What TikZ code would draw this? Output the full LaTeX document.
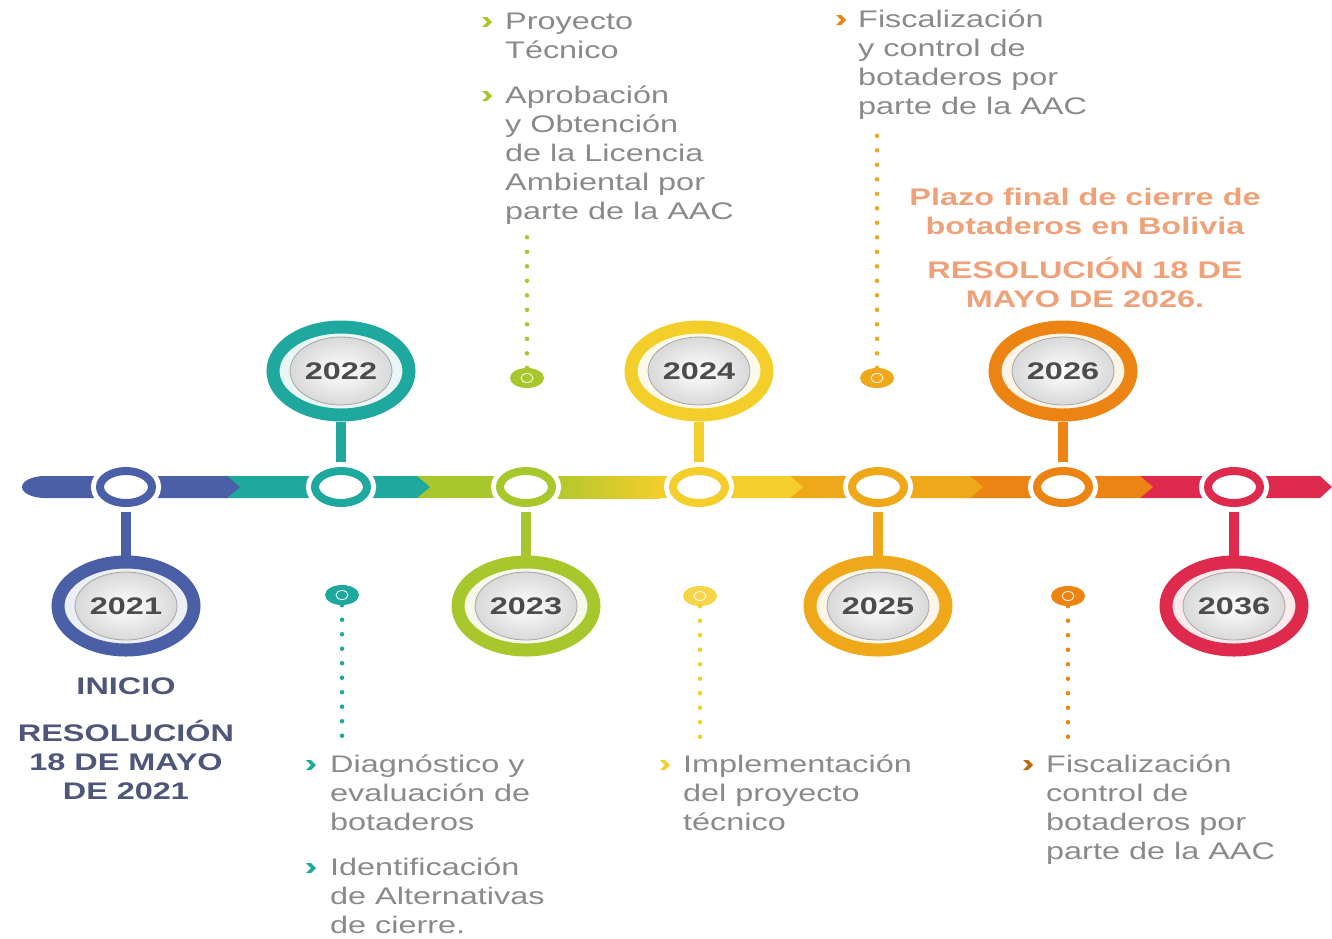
\documentclass[tikz,border=0pt]{standalone}
\usepackage{fontspec}
\setmainfont{Liberation Sans}[FakeStretch=1.35]
\usetikzlibrary{shapes.geometric, positioning, calc, backgrounds}

\definecolor{cblue}{HTML}{4B5FA6}
\definecolor{cteal}{HTML}{1FA89E}
\definecolor{cgreen}{HTML}{A8C72C}
\definecolor{cyellow}{HTML}{F4CE2B}
\definecolor{cgold}{HTML}{EFA81A}
\definecolor{corange}{HTML}{EB8413}
\definecolor{cred}{HTML}{DD2A4D}
\definecolor{cnavy}{HTML}{4E5679}
\definecolor{csalmon}{HTML}{EFA27A}
\definecolor{ctext}{HTML}{8A8A8A}

\newcommand\txtsize{\fontsize{24}{29}\selectfont}

\tikzset{chevron/.pic={\fill (-5,-5) -- (0,-5) -- (5,0) -- (0,5) -- (-5,5) -- (0,0) -- cycle;}}

\begin{document}
\begin{tikzpicture}[
    x=1pt, y=-1pt,
    barring/.style={ellipse, draw=#1, fill=white, line width=8pt, minimum width=52pt, minimum height=32pt, inner sep=0pt, preaction={draw=white, line width=18pt}},
    yearring/.style={ellipse, draw=#1, fill=#1!10, line width=13pt, minimum width=136pt, minimum height=88pt, inner sep=0pt},
    yearcore/.style={ellipse, draw=black!35, line width=0.8pt, inner color=white, outer color=black!15, minimum width=100pt, minimum height=68pt, inner sep=0pt, font=\txtsize\bfseries, text=black!70},
    stem/.style={draw=#1, line width=10pt},
    smalldot/.style={ellipse, fill=#1, minimum width=34pt, minimum height=20pt, inner sep=0pt,
        path picture={\draw[white, line width=0.8pt] (path picture bounding box.center) ellipse [x radius=6, y radius=4.5];}},
    dotline/.style={draw=#1, line width=4.5pt, line cap=round, dash pattern=on 0pt off 14.5pt},
    listtext/.style={anchor=base west, align=left, inner sep=0pt, font=\txtsize, text=ctext},
    navytext/.style={anchor=base, align=center, inner sep=0pt, font=\txtsize\bfseries, text=cnavy},
    salmontext/.style={anchor=base, align=center, inner sep=0pt, font=\txtsize\bfseries, text=csalmon}
    ]
    \useasboundingbox (0,0) rectangle (1332,938);

    % Timeline bar, right to left so each tip lies on the next colour
    \fill[cred] (1140,476) -- (1320,476) -- (1332,487) -- (1320,498) -- (1140,498) -- cycle;
    \fill[corange] (960,476) -- (1140,476) -- (1153,487) -- (1140,498) -- (960,498) -- cycle;
    \fill[cgold] (790,476) -- (970,476) -- (983,487) -- (970,498) -- (790,498) -- cycle;
    \fill[cyellow] (600,476) -- (790,476) -- (803,487) -- (790,498) -- (600,498) -- cycle;
    \shade[left color=cgreen, right color=cyellow] (540,476) rectangle (660,498);
    \fill[cgreen] (415,476) rectangle (545,498);
    \fill[cteal] (225,476) -- (417,476) -- (430,487) -- (417,498) -- (225,498) -- cycle;
    \fill[cblue] (227,476) -- (240,487) -- (227,498) -- (45,498) arc[start angle=90, end angle=270, x radius=23, y radius=11] -- cycle;

    % Rings on the bar
    \node[barring=cblue] (r21) at (126,487) {};
    \node[barring=cteal] (r22) at (341,487) {};
    \node[barring=cgreen] (r23) at (526,487) {};
    \node[barring=cyellow] (r24) at (699,487) {};
    \node[barring=cgold] (r25) at (878,487) {};
    \node[barring=corange] (r26) at (1063,487) {};
    \node[barring=cred] (r36) at (1234,487) {};

    % Year circles
    \node[yearring=cblue] (y21) at (126,606) {};
    \node[yearring=cteal] (y22) at (341,371) {};
    \node[yearring=cgreen] (y23) at (526,606) {};
    \node[yearring=cyellow] (y24) at (699,371) {};
    \node[yearring=cgold] (y25) at (878,606) {};
    \node[yearring=corange] (y26) at (1063,371) {};
    \node[yearring=cred] (y36) at (1234,606) {};
    \node[yearcore] (c21) at (y21) {2021};
    \node[yearcore] (c22) at (y22) {2022};
    \node[yearcore] (c23) at (y23) {2023};
    \node[yearcore] (c24) at (y24) {2024};
    \node[yearcore] (c25) at (y25) {2025};
    \node[yearcore] (c26) at (y26) {2026};
    \node[yearcore] (c36) at (y36) {2036};

    % Stems
    \begin{scope}[on background layer]
        \draw[stem=cblue] (r21) -- (y21);
        \draw[stem=cteal] (r22) -- (y22);
        \draw[stem=cgreen] (r23) -- (y23);
        \draw[stem=cyellow] (r24) -- (y24);
        \draw[stem=cgold] (r25) -- (y25);
        \draw[stem=corange] (r26) -- (y26);
        \draw[stem=cred] (r36) -- (y36);
    \end{scope}

    % Small dots and dotted leaders
    \node[smalldot=cteal] (d22) at (342,595) {};
    \node[smalldot=cgreen] (d23) at (527,378) {};
    \node[smalldot=cyellow!85] (d24) at (700,596) {};
    \node[smalldot=cgold] (d25) at (877,378) {};
    \node[smalldot=corange] (d26) at (1068,596) {};
    \coordinate (e22) at (342,740);
    \coordinate (e23) at (527,230);
    \coordinate (e24) at (700,740);
    \coordinate (e25) at (877,130);
    \coordinate (e26) at (1068,740);
    \draw[dotline=cteal] (d22) -- (e22);
    \draw[dotline=cgreen] (d23) -- (e23);
    \draw[dotline=cyellow] (d24) -- (e24);
    \draw[dotline=cgold] (d25) -- (e25);
    \draw[dotline=corange] (d26) -- (e26);

    % Item lists (anchored on the baseline of their last line)
    \node[listtext] (t22a) at (330,830) {Diagnóstico y\\evaluación de\\botaderos};
    \node[listtext] (t22b) at (330,933) {Identificación\\de Alternativas\\de cierre.};
    \node[listtext] (t23a) at (505,58) {Proyecto\\Técnico};
    \node[listtext] (t23b) at (505,219) {Aprobación\\y Obtención\\de la Licencia\\Ambiental por\\parte de la AAC};
    \node[listtext] (t24a) at (683,830) {Implementación\\del proyecto\\técnico};
    \node[listtext] (t25a) at (858,114) {Fiscalización\\y control de\\botaderos por\\parte de la AAC};
    \node[listtext] (t26a) at (1046,859) {Fiscalización\\control de\\botaderos por\\parte de la AAC};

    \pic[cteal] at ($(t22a.base west)+(-19,-65)$) {chevron};
    \pic[cteal] at ($(t22b.base west)+(-19,-65)$) {chevron};
    \pic[cgreen] at ($(t23a.base west)+(-18,-36)$) {chevron};
    \pic[cgreen] at ($(t23b.base west)+(-18,-123)$) {chevron};
    \pic[cyellow] at ($(t24a.base west)+(-18,-65)$) {chevron};
    \pic[corange] at ($(t25a.base west)+(-17,-94)$) {chevron};
    \pic[corange!80!black] at ($(t26a.base west)+(-18,-94)$) {chevron};

    % Bold notes
    \node[navytext] (inicio) at (126,694) {INICIO};
    \node[navytext] (res21) at (126,799) {RESOLUCIÓN\\18 DE MAYO\\DE 2021};
    \node[salmontext] (plazo) at (1085,234) {Plazo final de cierre de\\botaderos en Bolivia};
    \node[salmontext] (res26) at (1085,307) {RESOLUCIÓN 18 DE\\MAYO DE 2026.};

\end{tikzpicture}
\end{document}
